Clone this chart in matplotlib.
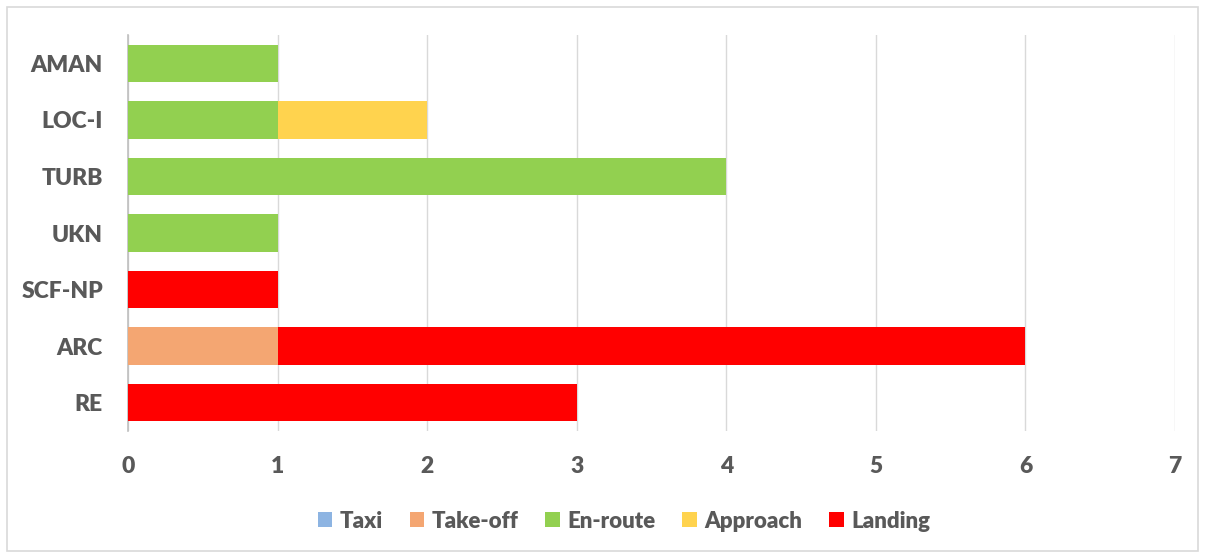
import matplotlib
matplotlib.use("Agg")
import matplotlib.pyplot as plt
from matplotlib.patches import Rectangle
import numpy as np

categories = ["AMAN", "LOC-I", "TURB", "UKN", "SCF-NP", "ARC", "RE"]
phases = ["Taxi", "Take-off", "En-route", "Approach", "Landing"]
taxi = [0, 0, 0, 0, 0, 0, 0]
takeoff = [0, 0, 0, 0, 0, 1, 0]
enroute = [1, 1, 4, 1, 0, 0, 0]
approach = [0, 1, 0, 0, 0, 0, 0]
landing = [0, 0, 0, 0, 1, 5, 3]
colors = ["#8DB4E2", "#F4A672", "#92D050", "#FFD34E", "#FF0000"]
xticks = [0, 1, 2, 3, 4, 5, 6, 7]

plt.rcParams['font.family'] = ['Lato', 'DejaVu Sans']
text_color = "#595959"
W = 'heavy'

fig = plt.figure(figsize=(12.05, 5.58), dpi=100)
ax = fig.add_axes([128/1205, 1 - 431/558, (1175-128)/1205, (431-35)/558])

y = np.arange(len(categories))
left = np.zeros(len(categories))
for name, vals, c in zip(phases, [taxi, takeoff, enroute, approach, landing], colors):
    vals = np.array(vals, dtype=float)
    ax.barh(y, vals, left=left, height=0.66, color=c, label=name, zorder=3)
    left += vals

ax.set_ylim(len(categories) - 0.5, -0.5)
ax.set_xlim(0, 7)
ax.set_yticks(y)
ax.set_yticklabels(categories)
ax.set_xticks(xticks)
ax.tick_params(axis='both', length=0, labelsize=16.5, labelcolor=text_color)
ax.tick_params(axis='y', pad=18)
ax.tick_params(axis='x', pad=18)
for lab in ax.get_xticklabels() + ax.get_yticklabels():
    lab.set_fontweight(W)
ax.grid(axis='x', color="#D9D9D9", linewidth=1, zorder=0)
for s in ["top", "right", "bottom"]:
    ax.spines[s].set_visible(False)
ax.spines["left"].set_color("#BFBFBF")
ax.spines["left"].set_linewidth(1.2)

leg = fig.legend(loc="center", bbox_to_anchor=(624/1205, 1 - 521/558), ncol=5,
                 frameon=False, fontsize=16, handlelength=0.65, handleheight=0.65,
                 handletextpad=0.35, columnspacing=1.2)
for t in leg.get_texts():
    t.set_color(text_color)
    t.set_fontweight(W)

fig.patches.append(Rectangle((7/1205, 7/558), (1198-7)/1205, (551-7)/558,
                             transform=fig.transFigure, fill=False,
                             edgecolor="#D9D9D9", linewidth=1.2))

fig.savefig("out.png", dpi=100)
